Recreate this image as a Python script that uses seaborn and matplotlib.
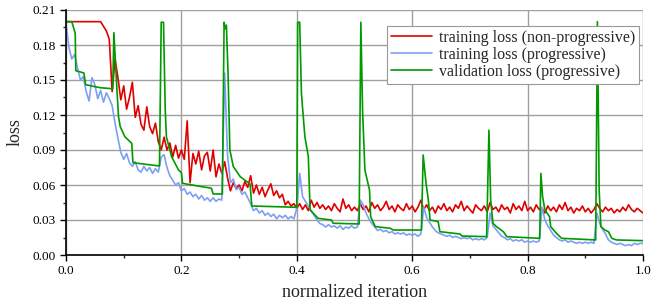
import numpy as np
import pandas as pd
import seaborn as sns
import matplotlib.pyplot as plt
from matplotlib.ticker import MultipleLocator, FormatStrFormatter

# training loss, non-progressive (one value every 0.005 of normalized iteration)
red_loss = [
    0.200, 0.200, 0.200, 0.200, 0.200, 0.200, 0.200, 0.200, 0.200, 0.200,
    0.200, 0.200, 0.200, 0.196, 0.192, 0.185, 0.140, 0.168, 0.152, 0.133,
    0.145, 0.125, 0.135, 0.148, 0.118, 0.128, 0.112, 0.107, 0.127, 0.110,
    0.104, 0.113, 0.097, 0.090, 0.101, 0.090, 0.096, 0.084, 0.094, 0.083,
    0.090, 0.082, 0.115, 0.062, 0.087, 0.078, 0.089, 0.073, 0.085, 0.088,
    0.072, 0.090, 0.067, 0.078, 0.070, 0.080, 0.066, 0.055, 0.062, 0.057,
    0.060, 0.055, 0.063, 0.058, 0.068, 0.053, 0.060, 0.052, 0.058, 0.050,
    0.056, 0.061, 0.051, 0.055, 0.049, 0.052, 0.043, 0.046, 0.042, 0.044,
    0.040, 0.044, 0.039, 0.043, 0.038, 0.047, 0.041, 0.045, 0.040, 0.043,
    0.039, 0.042, 0.038, 0.044, 0.040, 0.037, 0.048, 0.040, 0.043, 0.038,
    0.041, 0.038, 0.044, 0.039, 0.042, 0.037, 0.045, 0.040, 0.043, 0.038,
    0.041, 0.046, 0.039, 0.042, 0.037, 0.043, 0.040, 0.038, 0.044, 0.039,
    0.042, 0.037, 0.041, 0.047, 0.039, 0.043, 0.038, 0.041, 0.036, 0.042,
    0.039, 0.044, 0.038, 0.041, 0.037, 0.043, 0.040, 0.046, 0.038, 0.042,
    0.039, 0.036, 0.043, 0.040, 0.038, 0.042, 0.037, 0.045, 0.039, 0.041,
    0.037, 0.043, 0.039, 0.041, 0.036, 0.044, 0.039, 0.042, 0.038, 0.046,
    0.038, 0.041, 0.037, 0.043, 0.039, 0.040, 0.036, 0.042, 0.038, 0.041,
    0.037, 0.043, 0.039, 0.045, 0.038, 0.041, 0.036, 0.040, 0.038, 0.042,
    0.037, 0.040, 0.036, 0.039, 0.044, 0.040, 0.037, 0.041, 0.038, 0.040,
    0.036, 0.039, 0.037, 0.041, 0.038, 0.043, 0.039, 0.037, 0.040, 0.038,
    0.036,
]

# training loss, progressive (same sampling)
blue_loss = [
    0.199, 0.178, 0.168, 0.172, 0.160, 0.150, 0.153, 0.140, 0.132, 0.152,
    0.146, 0.134, 0.141, 0.131, 0.139, 0.134, 0.128, 0.113, 0.100, 0.088,
    0.082, 0.087, 0.079, 0.076, 0.080, 0.073, 0.071, 0.076, 0.072, 0.075,
    0.070, 0.074, 0.071, 0.084, 0.086, 0.075, 0.068, 0.064, 0.060, 0.062,
    0.055, 0.057, 0.052, 0.054, 0.050, 0.052, 0.048, 0.051, 0.047, 0.049,
    0.046, 0.049, 0.046, 0.048, 0.047, 0.156, 0.085, 0.062, 0.065, 0.056,
    0.058, 0.052, 0.054, 0.049, 0.044, 0.038, 0.040, 0.036, 0.038, 0.034,
    0.036, 0.033, 0.035, 0.031, 0.034, 0.032, 0.034, 0.031, 0.033, 0.031,
    0.040, 0.070, 0.050, 0.046, 0.042, 0.038, 0.034, 0.030, 0.027, 0.026,
    0.024, 0.026, 0.024, 0.025, 0.023, 0.025, 0.022, 0.024, 0.023, 0.025,
    0.023, 0.024, 0.047, 0.043, 0.036, 0.031, 0.027, 0.024, 0.021, 0.022,
    0.020, 0.021, 0.019, 0.020, 0.018, 0.019, 0.018, 0.019, 0.017, 0.018,
    0.017, 0.018, 0.016, 0.018, 0.041, 0.032, 0.028, 0.024, 0.021, 0.019,
    0.018, 0.017, 0.016, 0.017, 0.015, 0.016, 0.015, 0.014, 0.015, 0.014,
    0.015, 0.013, 0.014, 0.013, 0.014, 0.013, 0.015, 0.036, 0.025, 0.022,
    0.019, 0.016, 0.015, 0.013, 0.014, 0.012, 0.013, 0.012, 0.013, 0.011,
    0.012, 0.011, 0.012, 0.011, 0.012, 0.041, 0.030, 0.025, 0.021, 0.017,
    0.015, 0.013, 0.012, 0.013, 0.011, 0.012, 0.011, 0.010, 0.011, 0.010,
    0.011, 0.010, 0.011, 0.010, 0.036, 0.027, 0.022, 0.018, 0.013, 0.011,
    0.010, 0.009, 0.010, 0.009, 0.008, 0.009, 0.008, 0.010, 0.009, 0.010,
    0.010,
]

# validation loss, progressive (break points)
green_x = [0.0, 0.010, 0.016, 0.017, 0.031, 0.034, 0.059, 0.081, 0.083, 0.088,
           0.091, 0.094, 0.102, 0.114, 0.116, 0.162, 0.165, 0.169, 0.172, 0.174,
           0.183, 0.195, 0.200, 0.202, 0.252, 0.255, 0.271, 0.274, 0.276, 0.278,
           0.281, 0.284, 0.290, 0.302, 0.319, 0.322, 0.400, 0.4015, 0.405, 0.408,
           0.414, 0.420, 0.423, 0.437, 0.460, 0.463, 0.508, 0.511, 0.514, 0.518,
           0.526, 0.528, 0.536, 0.562, 0.567, 0.616, 0.619, 0.624, 0.628, 0.631,
           0.645, 0.648, 0.683, 0.686, 0.729, 0.733, 0.736, 0.740, 0.746, 0.758,
           0.764, 0.821, 0.823, 0.826, 0.830, 0.838, 0.840, 0.850, 0.859, 0.918,
           0.921, 0.924, 0.927, 0.934, 0.940, 0.946, 0.954, 1.0]
green_loss = [0.200, 0.200, 0.190, 0.158, 0.156, 0.146, 0.1434, 0.1425, 0.1906, 0.144,
              0.1186, 0.110, 0.1014, 0.0957, 0.0791, 0.0763, 0.1995, 0.1995, 0.124, 0.1014,
              0.0843, 0.0729, 0.0706, 0.0614, 0.0572, 0.0523, 0.0523, 0.1995, 0.194, 0.197,
              0.153, 0.090, 0.0757, 0.0671, 0.0609, 0.042, 0.0409, 0.1995, 0.1995, 0.1386,
              0.1014, 0.0843, 0.0386, 0.0314, 0.030, 0.0272, 0.0266, 0.1995, 0.124, 0.0729,
              0.0557, 0.0329, 0.0243, 0.0229, 0.0214, 0.0214, 0.0857, 0.0614, 0.0471, 0.030,
              0.0286, 0.020, 0.018, 0.0163, 0.0157, 0.107, 0.047, 0.0272, 0.0243, 0.020,
              0.0157, 0.0143, 0.070, 0.050, 0.0386, 0.0329, 0.0243, 0.0186, 0.0143, 0.0129,
              0.200, 0.0557, 0.0243, 0.0214, 0.020, 0.0143, 0.0129, 0.0123]

labels = ["training loss (non-progressive)",
          "training loss (progressive)",
          "validation loss (progressive)"]
colors = ["#e00000", "#7f9ff5", "#009a00"]

red_df = pd.DataFrame({"iter": np.linspace(0, 1, len(red_loss)), "loss": red_loss})
blue_df = pd.DataFrame({"iter": np.linspace(0, 1, len(blue_loss)), "loss": blue_loss})
green_df = pd.DataFrame({"iter": green_x, "loss": green_loss})

sns.set_style("white")
plt.rcParams["font.family"] = ["Liberation Serif", "DejaVu Serif"]

fig = plt.figure(figsize=(6.52, 3.06), dpi=100)
ax = fig.add_axes([66 / 652, 1 - 255 / 306, 577 / 652, 245 / 306])

sns.lineplot(data=red_df, x="iter", y="loss", ax=ax, color=colors[0], lw=1.2, label=labels[0])
sns.lineplot(data=blue_df, x="iter", y="loss", ax=ax, color=colors[1], lw=1.2, label=labels[1])
sns.lineplot(data=green_df, x="iter", y="loss", ax=ax, color=colors[2], lw=1.2, label=labels[2])

ax.set_xlim(0, 1)
ax.set_ylim(0, 0.21)
ax.xaxis.set_major_locator(MultipleLocator(0.2))
ax.xaxis.set_minor_locator(MultipleLocator(0.1))
ax.yaxis.set_major_locator(MultipleLocator(0.03))
ax.yaxis.set_minor_locator(MultipleLocator(0.015))
ax.xaxis.set_major_formatter(FormatStrFormatter("%.1f"))
ax.yaxis.set_major_formatter(FormatStrFormatter("%.2f"))
ax.tick_params(which="major", direction="out", length=4, width=1, labelsize=9.5,
               bottom=True, left=True, colors="black")
ax.tick_params(which="minor", direction="out", length=2.5, width=1, bottom=True, left=True)
ax.grid(True, which="major", color="#a0a0a0", lw=1)
ax.set_axisbelow(True)

for s in ["top", "right"]:
    ax.spines[s].set_visible(False)
for s in ["left", "bottom"]:
    ax.spines[s].set_color("black")
    ax.spines[s].set_linewidth(1.2)

ax.set_xlabel("normalized iteration", fontsize=13, labelpad=5)
ax.set_ylabel("loss", fontsize=13, labelpad=6)

leg = ax.legend(loc="upper right", bbox_to_anchor=(0.993, 0.935), fontsize=11.5,
                frameon=True, fancybox=False, edgecolor="#999999", framealpha=1,
                handlelength=2.6, labelspacing=0.05, borderpad=0.25, handletextpad=0.4,
                borderaxespad=0)
leg.get_frame().set_linewidth(0.8)

fig.savefig("out.png", dpi=100)
